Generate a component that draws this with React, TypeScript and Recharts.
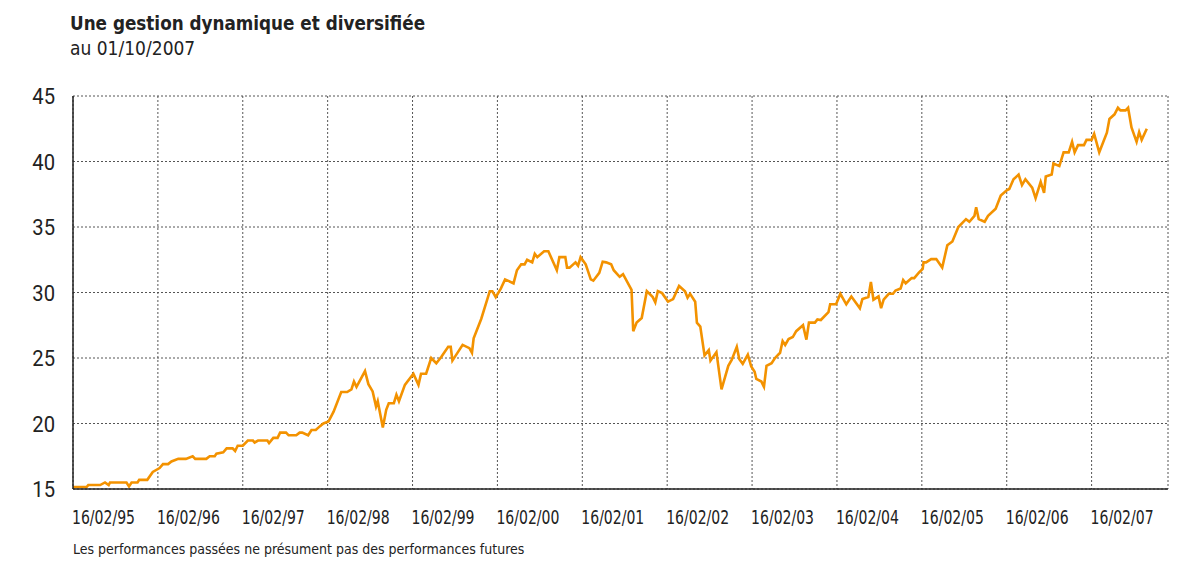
import React from "react";
import { LineChart, Line, XAxis, YAxis, CartesianGrid } from "recharts";

// years elapsed since 16/02/1995
const yearsSinceStart = [
  0, 0.16, 0.18, 0.32, 0.377, 0.42, 0.436, 0.63, 0.66, 0.69, 0.76, 0.78, 0.875, 0.94,
  1.02, 1.06, 1.12, 1.16, 1.24, 1.33, 1.41, 1.44, 1.57, 1.61, 1.67, 1.69, 1.77, 1.81, 1.88, 1.91, 1.94,
  2.0, 2.06, 2.12, 2.14, 2.18, 2.29, 2.31, 2.36, 2.41, 2.44, 2.51, 2.54, 2.63, 2.67, 2.7, 2.77, 2.81, 2.86, 2.91, 2.95,
  3.01, 3.07, 3.16, 3.23, 3.28, 3.31, 3.34, 3.44, 3.48, 3.53, 3.57, 3.59, 3.65, 3.69, 3.72, 3.78, 3.81, 3.84, 3.91,
  4.01, 4.07, 4.1, 4.16, 4.22, 4.28, 4.34, 4.42, 4.45, 4.47, 4.59, 4.67, 4.7, 4.72, 4.81, 4.91, 4.94, 4.98,
  5.04, 5.09, 5.19, 5.23, 5.28, 5.32, 5.35, 5.41, 5.44, 5.47, 5.55, 5.6, 5.7, 5.73, 5.8, 5.82, 5.85, 5.92, 5.95, 5.98,
  6.04, 6.1, 6.13, 6.2, 6.24, 6.28, 6.34, 6.37, 6.44, 6.48, 6.58, 6.6, 6.64, 6.7, 6.76, 6.83, 6.86, 6.89, 6.94,
  7.01, 7.07, 7.14, 7.21, 7.24, 7.27, 7.33, 7.35, 7.39, 7.44, 7.49, 7.51, 7.58, 7.64, 7.72, 7.76, 7.82, 7.85, 7.89, 7.95, 7.99,
  8.03, 8.05, 8.11, 8.14, 8.17, 8.23, 8.27, 8.33, 8.36, 8.39, 8.43, 8.48, 8.52, 8.6, 8.64, 8.67, 8.74, 8.77, 8.81, 8.9, 8.92, 8.99,
  9.04, 9.11, 9.17, 9.27, 9.3, 9.37, 9.4, 9.43, 9.49, 9.52, 9.55, 9.61, 9.66, 9.69, 9.75, 9.78, 9.81, 9.88, 9.91, 9.97,
  10.01, 10.02, 10.05, 10.11, 10.17, 10.24, 10.3, 10.36, 10.43, 10.52, 10.56, 10.62, 10.64, 10.67, 10.74, 10.78, 10.87, 10.93,
  11.0, 11.03, 11.08, 11.14, 11.18, 11.22, 11.3, 11.34, 11.4, 11.44, 11.46, 11.53, 11.55, 11.62, 11.67, 11.73, 11.77, 11.8, 11.84, 11.91, 11.94,
  12.0, 12.03, 12.09, 12.18, 12.21, 12.27, 12.31, 12.34, 12.4, 12.43, 12.47, 12.53, 12.56, 12.59, 12.65,
];

const navValues = [
  15.15, 15.15, 15.3, 15.3, 15.5, 15.3, 15.5, 15.5, 15.2, 15.5, 15.5, 15.7, 15.7, 16.3,
  16.6, 16.9, 16.9, 17.1, 17.3, 17.3, 17.5, 17.3, 17.3, 17.5, 17.5, 17.7, 17.8, 18.1, 18.1, 17.9, 18.3,
  18.3, 18.7, 18.7, 18.55, 18.7, 18.7, 18.5, 18.9, 18.9, 19.3, 19.3, 19.1, 19.1, 19.3, 19.3, 19.1, 19.5, 19.5, 19.8, 20.0,
  20.15, 20.9, 22.4, 22.4, 22.6, 23.2, 22.8, 24.0, 23.0, 22.45, 21.3, 21.7, 19.7, 21.05, 21.55, 21.55, 22.2, 21.7, 22.95,
  23.8, 22.95, 23.8, 23.8, 25.0, 24.6, 25.1, 25.85, 25.85, 24.8, 26.0, 25.75, 25.4, 26.5, 28.0, 30.1, 30.1, 29.65,
  30.3, 31.0, 30.7, 31.7, 32.15, 32.15, 32.5, 32.3, 32.95, 32.7, 33.15, 33.15, 31.7, 32.7, 32.7, 31.9, 31.9, 32.3, 32.05, 32.7,
  32.15, 31.0, 30.9, 31.5, 32.35, 32.3, 32.15, 31.7, 31.2, 31.4, 30.2, 27.05, 27.7, 28.05, 30.1, 29.65, 29.25, 30.1, 29.95,
  29.3, 29.5, 30.5, 30.1, 29.6, 29.9, 29.3, 27.7, 27.4, 25.2, 25.6, 24.8, 25.45, 22.6, 24.4, 24.85, 25.85, 24.9, 24.55, 25.25, 24.35,
  23.95, 23.4, 23.2, 22.8, 24.4, 24.6, 25.0, 25.4, 26.3, 26.0, 26.45, 26.6, 27.05, 27.5, 26.4, 27.7, 27.7, 27.95, 27.9, 28.5, 29.1, 29.1,
  29.9, 29.1, 29.7, 28.8, 29.5, 29.65, 30.8, 29.45, 29.7, 28.8, 29.45, 29.9, 29.9, 30.15, 30.3, 30.95, 30.7, 31.1, 31.1, 31.55,
  31.8, 32.3, 32.3, 32.55, 32.55, 31.9, 33.6, 33.9, 35.0, 35.6, 35.4, 35.85, 36.5, 35.6, 35.4, 35.85, 36.4, 37.4,
  37.8, 37.9, 38.65, 39.0, 38.2, 38.65, 38.0, 37.2, 38.45, 37.6, 38.85, 39.0, 39.85, 39.65, 40.7, 40.7, 41.5, 40.7, 41.25, 41.25, 41.65,
  41.65, 42.1, 40.7, 42.2, 43.25, 43.6, 44.1, 43.9, 43.9, 44.1, 42.6, 41.5, 42.25, 41.65, 42.5,
];

const xTicks = [0, 1, 2, 3, 4, 5, 6, 7, 8, 9, 10, 11, 12];
const xTickLabels = [
  "16/02/95", "16/02/96", "16/02/97", "16/02/98", "16/02/99", "16/02/00", "16/02/01",
  "16/02/02", "16/02/03", "16/02/04", "16/02/05", "16/02/06", "16/02/07",
];
const yTicks = [15, 20, 25, 30, 35, 40, 45];

const data = yearsSinceStart.map((t, i) => ({ t, nav: navValues[i] }));

const FONT = "'Liberation Sans Narrow', 'DejaVu Sans Condensed', Roboto, sans-serif";

const XTick = (props: any) => {
  const { x, y, payload } = props;
  const label = xTickLabels[xTicks.indexOf(payload.value)];
  return (
    <text
      transform={`translate(${x - 1}, ${y + 27}) scale(0.8, 1)`}
      textAnchor="start"
      fontFamily={FONT}
      fontSize={19.5}
      fill="#222"
    >
      {label}
    </text>
  );
};

const YTick = (props: any) => {
  const { x, y, payload } = props;
  return (
    <text
      transform={`translate(${x - 10}, ${y + 8}) scale(0.92, 1)`}
      textAnchor="end"
      fontFamily="Roboto, sans-serif"
      fontSize={22}
      fill="#222"
    >
      {payload.value}
    </text>
  );
};

export default function App() {
  return (
    <div style={{ position: "absolute", left: 0, top: 0, width: 1180, height: 561, background: "#fff" }}>
      <svg width={1180} height={561} style={{ position: "absolute", left: 0, top: 0 }}>
        <text x={70} y={30} fontFamily={FONT} fontSize={18.7} fontWeight="bold" fill="#222">
          Une gestion dynamique et diversifiée
        </text>
        <text x={70} y={55} fontFamily={FONT} fontSize={19} fill="#222">
          au 01/10/2007
        </text>
        <text x={73} y={554} fontFamily={FONT} fontSize={14} fill="#222">
          Les performances passées ne présument pas des performances futures
        </text>
      </svg>

      <div style={{ position: "absolute", left: 0, top: 0 }}>
        <LineChart width={1180} height={561} data={data} margin={{ top: 96, right: 12, left: 13, bottom: 42 }}>
          <CartesianGrid stroke="#555" strokeDasharray="2 2" strokeWidth={1} />
          <XAxis
            dataKey="t"
            type="number"
            domain={[0, 12.9]}
            ticks={xTicks}
            tick={<XTick />}
            tickLine={false}
            axisLine={{ stroke: "#222", strokeWidth: 1.5 }}
            height={30}
            interval={0}
          />
          <YAxis
            type="number"
            domain={[15, 45]}
            ticks={yTicks}
            tick={<YTick />}
            tickLine={false}
            axisLine={{ stroke: "#222", strokeWidth: 1.5 }}
            width={60}
            interval={0}
          />
          <Line
            type="linear"
            dataKey="nav"
            stroke="#F39200"
            strokeWidth={2.6}
            dot={false}
            isAnimationActive={false}
          />
        </LineChart>
      </div>
    </div>
  );
}
